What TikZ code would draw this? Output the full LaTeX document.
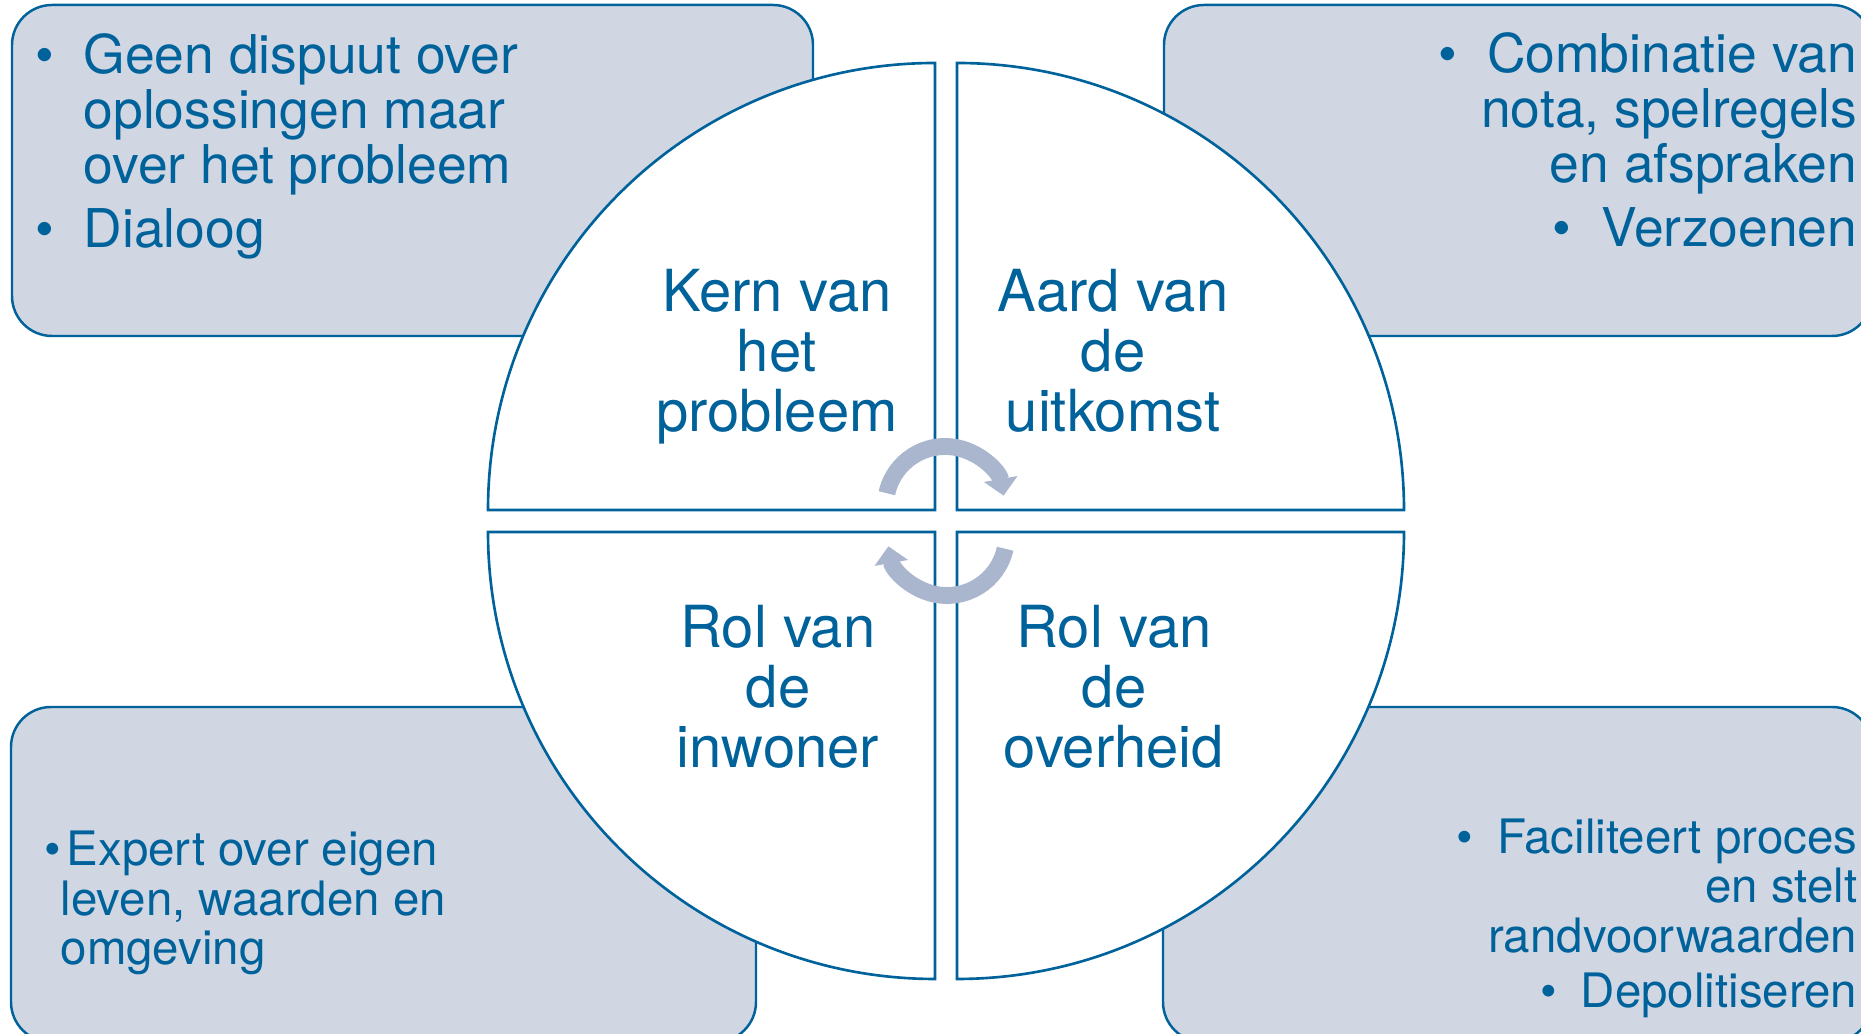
\documentclass[tikz,border=0pt]{standalone}
\usepackage{fontspec}
\setmainfont{TeX Gyre Heros}
\usetikzlibrary{arrows.meta}

\definecolor{nlblue}{RGB}{0,98,155}
\definecolor{boxgray}{RGB}{208,214,226}
\definecolor{cyclegray}{RGB}{169,182,206}

\tikzset{
	infobox/.style={draw=nlblue, fill=boxgray, line width=0.7pt, rounded corners=0.4cm},
	quarter/.style={draw=nlblue, fill=white, line width=0.75pt},
	quartertext/.style={text=nlblue, inner sep=0pt, align=center, anchor=base, font=\fontsize{16.5}{17.1}\selectfont},
	boxtext/.style={text=nlblue, inner sep=0pt, font=\fontsize{15.2}{15.65}\selectfont},
	smalltext/.style={text=nlblue, inner sep=0pt, font=\fontsize{13.5}{14.1}\selectfont},
	cyclearrow/.style={draw=cyclegray, line width=4.8pt, -{Triangle[length=4.8pt,width=9.4pt]}}
}

\begin{document}
\begin{tikzpicture}
	\useasboundingbox (0,0) rectangle (18.61,10.34);

	% Boxes in the four corners
	\draw[infobox] (0.12,6.98) rectangle (8.13,10.29);
	\draw[infobox] (11.64,6.98) rectangle (18.72,10.29);
	\draw[infobox] (0.11,-0.08) rectangle (7.56,3.27);
	\draw[infobox] (11.63,-0.08) rectangle (18.72,3.27);

	% Circle cut in four quarters
	\draw[quarter] (9.35,5.24) -- ++(-4.47,0) arc (180:90:4.47) -- cycle;
	\draw[quarter] (9.57,5.24) -- ++(0,4.47) arc (90:0:4.47) -- cycle;
	\draw[quarter] (9.35,5.02) -- ++(-4.47,0) arc (180:270:4.47) -- cycle;
	\draw[quarter] (9.57,5.02) -- ++(4.47,0) arc (0:-90:4.47) -- cycle;

	% Arrows going round in the middle
	\draw[cyclearrow] (9.45,5.28) ++(167.6:0.595) arc (167.6:10:0.595);
	\draw[cyclearrow] (9.47,4.98) ++(-12.4:0.595) arc (-12.4:-170:0.595);

	% Texts in the quarters (placed at the baseline of the last line)
	\node[quartertext] (kern) at (7.77,6.02) {Kern van\\het\\probleem};
	\node[quartertext] (aard) at (11.13,6.02) {Aard van\\de\\uitkomst};
	\node[quartertext] (inwoner) at (7.78,2.66) {Rol van\\de\\inwoner};
	\node[quartertext] (overheid) at (11.14,2.66) {Rol van\\de\\overheid};

	% Texts in the boxes
	\node[boxtext, align=left, anchor=base west] (dialoog) at (0.83,7.86)
		{\llap{\textbullet\hspace{0.3cm}}Geen dispuut over\\oplossingen maar\\over het probleem\\[2.8pt]\llap{\textbullet\hspace{0.3cm}}Dialoog};
	\node[boxtext, align=right, anchor=base east] (verzoenen) at (18.58,7.87)
		{\textbullet\hspace{0.3cm}Combinatie van\\nota, spelregels\\en afspraken\\[2.6pt]\textbullet\hspace{0.3cm}Verzoenen};
	\node[smalltext, align=left, anchor=base west] (expert) at (0.60,0.69)
		{\llap{\textbullet}\hspace{0.06cm}Expert over eigen\\leven, waarden en\\omgeving};
	\node[smalltext, align=right, anchor=base east] (faciliteert) at (18.58,0.26)
		{\textbullet\hspace{0.24cm}Faciliteert proces\\en stelt\\randvoorwaarden\\[1.7pt]\textbullet\hspace{0.24cm}Depolitiseren};
\end{tikzpicture}
\end{document}
